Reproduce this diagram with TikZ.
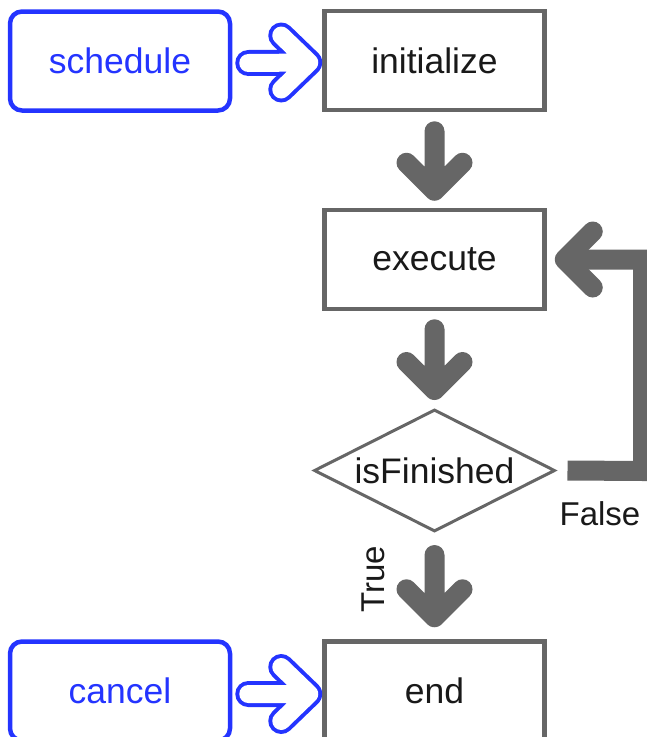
\documentclass[tikz,border=0pt]{standalone}
\usepackage{fontspec}
\setmainfont{Liberation Sans}
\usepackage{xcolor}
\usepackage{tikz}
\usetikzlibrary{shapes.geometric, positioning, calc}
\definecolor{flowgray}{RGB}{102,102,102}
\definecolor{callblue}{RGB}{36,52,255}
\tikzset{
    procbox/.style={
        draw=flowgray, line width=4.5pt, fill=white, text=black!90,
        minimum width=220pt, minimum height=99pt, inner sep=0pt,
        font=\fontsize{35.5}{40}\selectfont
    },
    callbox/.style={
        procbox, draw=callblue, text=callblue, rounded corners=12pt
    },
    decision/.style={
        diamond, aspect=1.98, draw=flowgray, line width=3pt, fill=white, text=black!90,
        minimum width=241pt, minimum height=122pt, inner sep=0pt,
        font=\fontsize{35.5}{40}\selectfont
    },
    flowarrow/.style={
        draw=flowgray, line width=20pt, line cap=round, line join=round
    },
    downarrow/.style={
        flowarrow,
        to path={-- (\tikztotarget) -- ++(-28,-28) (\tikztotarget) -- ++(28,-28)}
    },
    callarrow/.style={
        draw=white, line width=18pt, line cap=round, line join=round,
        preaction={draw=callblue, line width=26pt, line cap=round, line join=round},
        to path={-- (\tikztotarget) -- ++(-28,-27) (\tikztotarget) -- ++(-28,27)}
    },
    branchlbl/.style={
        font=\fontsize{33}{38}\selectfont, text=black!90, inner sep=0pt
    }
}
\begin{document}
\begin{tikzpicture}[x=1pt, y=-1pt]
        \clip (0,0) rectangle (647,737);

        % ======================================
        % NODES
        % ======================================
        \node[callbox] (sched) at (120,61) {schedule};
        \node[procbox] (init) at (434.5,60.5) {initialize};
        \node[procbox] (exec) at (434.5,259.5) {execute};
        \node[decision] (check) at (434.5,470.5) {isFinished};
        \node[procbox] (done) at (434.5,691) {end};
        \node[callbox] (cancel) at (120,691) {cancel};

        % ======================================
        % MAIN FLOW
        % ======================================
        \draw[downarrow] ($(init.south)+(0,19)$) to ($(exec.north)+(0,-17)$);
        \draw[downarrow] ($(exec.south)+(0,18)$) to ($(check.north)+(0,-18)$);
        \draw[downarrow] ($(check.south)+(0,22)$) to ($(done.north)+(0,-22)$);
        \node[branchlbl, rotate=90] (truelbl) at (373,579) {True};

        % False -> back to execute
        \coordinate (fbend) at (643,471);
        \coordinate (ftip) at ($(exec.east)+(18,0)$);
        \draw[flowarrow, line cap=butt, line join=miter] ($(check.east)+(11,0)$) -- (fbend) |- (ftip);
        \draw[flowarrow] ($(ftip)+(28,-28)$) -- (ftip) -- ($(ftip)+(28,28)$);
        \node[branchlbl] (falselbl) at (600,514) {False};

        % ======================================
        % CALLS
        % ======================================
        \draw[callarrow] ($(sched.east)+(16,2)$) to ($(init.west)+(-13,2)$);
        \draw[callarrow] ($(cancel.east)+(16,3)$) to ($(done.west)+(-13,3)$);

    \end{tikzpicture}
\end{document}
